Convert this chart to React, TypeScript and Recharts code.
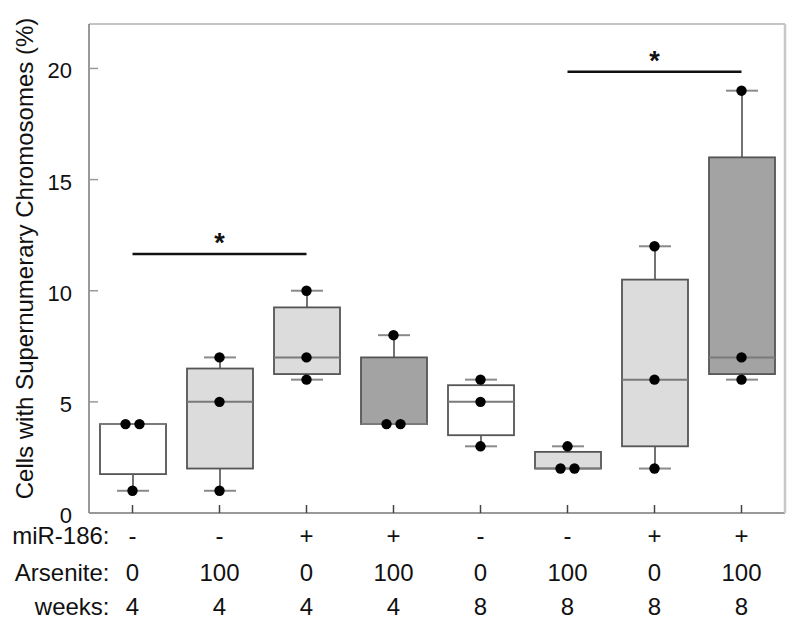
import { ComposedChart, Bar, Scatter, XAxis, YAxis, ReferenceLine } from 'recharts';

// treatment labels under each box
const mir186 = ['-', '-', '+', '+', '-', '-', '+', '+'];
const arsenite = ['0', '100', '0', '100', '0', '100', '0', '100'];
const weeks = ['4', '4', '4', '4', '8', '8', '8', '8'];
const rowHeaders = ['miR-186:', 'Arsenite:', 'weeks:'];

// box plot summary (% cells with supernumerary chromosomes)
const whiskerLow = [1, 1, 6, 4, 3, 2, 2, 6];
const lowerQuartile = [1.75, 2, 6.25, 4, 3.5, 2, 3, 6.25];
const median = [4, 5, 7, 4, 5, 2, 6, 7];
const upperQuartile = [4, 6.5, 9.25, 7, 5.75, 2.75, 10.5, 16];
const whiskerHigh = [4, 7, 10, 8, 6, 3, 12, 19];

// individual replicates
const replicates = [
  [4, 4, 1],
  [7, 5, 1],
  [10, 7, 6],
  [8, 4, 4],
  [6, 5, 3],
  [3, 2, 2],
  [12, 6, 2],
  [19, 7, 6],
];

const yTicks = [0, 5, 10, 15, 20];
const yMax = 22;

// significance brackets: from box, to box, height
const sigFrom = [0, 5];
const sigTo = [2, 7];
const sigLevel = [11.65, 19.85];

const FONT = '"Liberation Sans", Arial, sans-serif';
const boxFills = ['#ffffff', '#dcdcdc', '#a3a3a3'];

const names = mir186.map((m, i) => `${m}|${arsenite[i]}|${weeks[i]}`);

const boxData = names.map((name, i) => ({
  name,
  lo: whiskerLow[i],
  q1: lowerQuartile[i],
  med: median[i],
  q3: upperQuartile[i],
  hi: whiskerHigh[i],
  // none / one / both treatments -> fill shade
  dose: (mir186[i] === '+' ? 1 : 0) + (arsenite[i] !== '0' ? 1 : 0),
}));

// points, with equal values in one group put side by side
const dots = replicates.flatMap((vals, i) =>
  vals.map((v, k) => {
    const same = vals.filter((u) => u === v).length;
    const rank = vals.slice(0, k).filter((u) => u === v).length;
    return { name: names[i], v, slot: same > 1 ? rank - (same - 1) / 2 : 0 };
  })
);

function BoxShape(props: any) {
  const { x, y, width, height, payload } = props;
  const p = payload;
  const unit = height / (p.hi - p.lo);
  const py = (v: number) => y + (p.hi - v) * unit;
  const cx = x + width / 2;
  return (
    <g>
      {p.hi > p.q3 && (
        <g>
          <line x1={cx} x2={cx} y1={py(p.hi)} y2={py(p.q3)} stroke="#444" strokeWidth={1.5} />
          <line x1={cx - 16} x2={cx + 16} y1={py(p.hi)} y2={py(p.hi)} stroke="#8a8a8a" strokeWidth={2} />
        </g>
      )}
      {p.lo < p.q1 && (
        <g>
          <line x1={cx} x2={cx} y1={py(p.q1)} y2={py(p.lo)} stroke="#444" strokeWidth={1.5} />
          <line x1={cx - 16} x2={cx + 16} y1={py(p.lo)} y2={py(p.lo)} stroke="#8a8a8a" strokeWidth={2} />
        </g>
      )}
      <rect
        x={x}
        y={py(p.q3)}
        width={width}
        height={py(p.q1) - py(p.q3)}
        fill={boxFills[p.dose]}
        stroke="#555"
        strokeWidth={1.8}
      />
      <line x1={x} x2={x + width} y1={py(p.med)} y2={py(p.med)} stroke="#7a7a7a" strokeWidth={2} />
    </g>
  );
}

function Dot(props: any) {
  const { cx, cy, payload } = props;
  return <circle cx={cx + payload.slot * 14} cy={cy} r={5.2} fill="#000" />;
}

function BottomTick(props: any) {
  const { x, y, payload, index } = props;
  const parts = String(payload.value).split('|');
  const rowY = [31, 68, 102];
  return (
    <g fontFamily={FONT} fontSize={24} fill="#111">
      {parts.map((t, r) => (
        <text key={r} x={x} y={y + rowY[r]} textAnchor="middle" fill="#111">
          {t}
        </text>
      ))}
      {index === 0 &&
        rowHeaders.map((h, r) => (
          <text key={'h' + r} x={x - 23} y={y + rowY[r]} textAnchor="end" fill="#111">
            {h}
          </text>
        ))}
    </g>
  );
}

function LeftTick(props: any) {
  const { x, y, payload } = props;
  return (
    <text x={x} y={y + 10} textAnchor="end" fontFamily={FONT} fontSize={22} fill="#111">
      {payload.value}
    </text>
  );
}

function YLabel(props: any) {
  const vb = props.viewBox;
  const cx = vb.x + 33;
  const cy = vb.y + vb.height / 2 - 10;
  return (
    <text
      x={cx}
      y={cy}
      transform={`rotate(-90, ${cx}, ${cy})`}
      textAnchor="middle"
      fontFamily={FONT}
      fontSize={24}
      fill="#111"
    >
      Cells with Supernumerary Chromosomes (%)
    </text>
  );
}

function Star(props: any) {
  const vb = props.viewBox;
  return (
    <text
      x={vb.x + vb.width / 2}
      y={vb.y - 2}
      textAnchor="middle"
      fontFamily={FONT}
      fontSize={27}
      fontWeight="bold"
      fill="#111"
    >
      *
    </text>
  );
}

export default function App() {
  return (
    <div style={{ position: 'absolute', left: 0, top: 0, background: '#fff' }}>
      <ComposedChart
        width={800}
        height={629}
        data={boxData}
        margin={{ top: 24, right: 14, bottom: 0, left: 0 }}
      >
        <XAxis
          dataKey="name"
          allowDuplicatedCategory={false}
          interval={0}
          height={116}
          tickSize={-8}
          tickMargin={8}
          tick={<BottomTick />}
          tickLine={{ stroke: '#444', strokeWidth: 1.5 }}
          axisLine={{ stroke: '#777', strokeWidth: 1.5 }}
        />
        <YAxis
          width={89}
          domain={[0, yMax]}
          ticks={yTicks}
          allowDataOverflow
          tickSize={-9}
          tickMargin={26}
          tick={<LeftTick />}
          tickLine={{ stroke: '#999', strokeWidth: 1.5 }}
          axisLine={{ stroke: '#777', strokeWidth: 1.5 }}
          label={<YLabel />}
        />
        <YAxis
          yAxisId="right"
          orientation="right"
          type="number"
          domain={[0, yMax]}
          width={1}
          tick={false}
          tickLine={false}
          axisLine={{ stroke: '#c8c8c8', strokeWidth: 2.5 }}
        />
        {/* top frame line */}
        <ReferenceLine y={yMax} stroke="#c4c4c4" strokeWidth={2} />
        {/* keeps the right-hand frame axis bound to a series */}
        <Scatter yAxisId="right" data={[]} dataKey="v" isAnimationActive={false} />
        <Bar
          dataKey={(d: any) => [d.lo, d.hi]}
          barSize={66}
          shape={<BoxShape />}
          isAnimationActive={false}
        />
        <Scatter data={dots} dataKey="v" shape={<Dot />} isAnimationActive={false} />
        {sigFrom.map((f, i) => (
          <ReferenceLine
            key={i}
            segment={[
              { x: names[f], y: sigLevel[i] },
              { x: names[sigTo[i]], y: sigLevel[i] },
            ]}
            stroke="#111"
            strokeWidth={2.5}
            label={<Star />}
          />
        ))}
      </ComposedChart>
    </div>
  );
}
